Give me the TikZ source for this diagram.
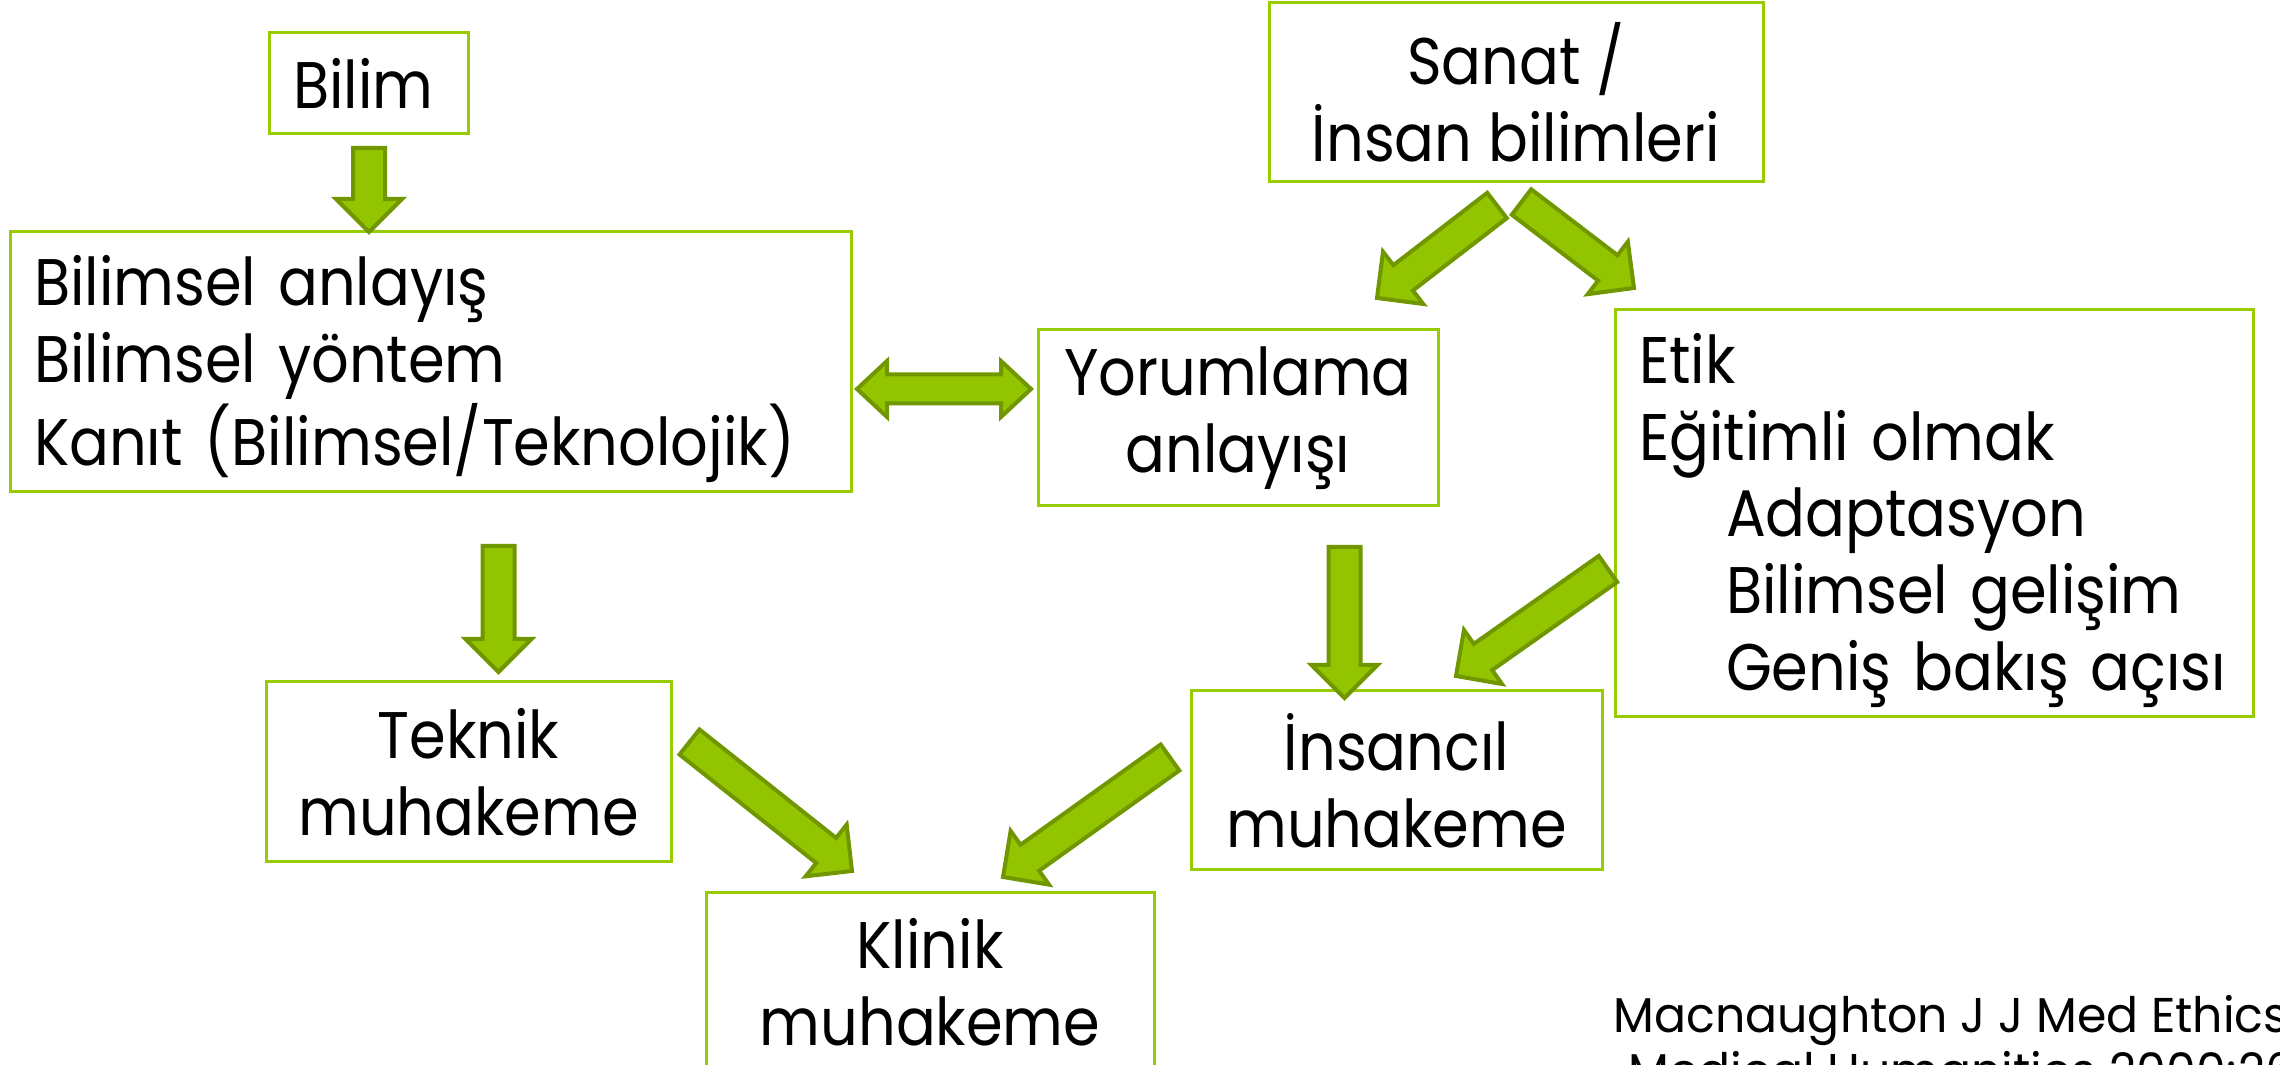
\documentclass[tikz,border=0pt]{standalone}
\usepackage{fontspec}
\setmainfont{Poppins}[FakeStretch=0.895]
\newfontfamily\citefont{Poppins}[FakeStretch=0.97]
\usetikzlibrary{calc}
\definecolor{boxgreen}{RGB}{153,204,0}
\definecolor{arrowfill}{RGB}{146,196,0}
\definecolor{arrowline}{RGB}{112,150,0}
% block arrow sizes
\def\shaftw{1.6mm}
\def\headw{3.3mm}
\def\headl{3.3mm}
\newcommand{\bigarrow}[2]{%
  \path ($(#2)!\headl!(#1)$) coordinate (hb);
  \filldraw[arrowblock] ($(#1)!\shaftw!90:(#2)$) -- ($(hb)!\shaftw!90:(#2)$) -- ($(hb)!\headw!90:(#2)$) -- (#2)
    -- ($(hb)!\headw!-90:(#2)$) -- ($(hb)!\shaftw!-90:(#2)$) -- ($(#1)!\shaftw!-90:(#2)$) -- cycle;}
\newcommand{\dblarrow}[2]{%
  \path ($(#1)!3mm!(#2)$) coordinate (ha) ($(#2)!3mm!(#1)$) coordinate (hb);
  \filldraw[arrowblock] (#1) -- ($(ha)!2.8mm!90:(#2)$) -- ($(ha)!1.45mm!90:(#2)$) -- ($(hb)!1.45mm!-90:(#1)$)
    -- ($(hb)!2.8mm!-90:(#1)$) -- (#2) -- ($(hb)!2.8mm!90:(#1)$) -- ($(hb)!1.45mm!90:(#1)$)
    -- ($(ha)!1.45mm!-90:(#2)$) -- ($(ha)!2.8mm!-90:(#2)$) -- cycle;}
% first line with some extra room above it
\newcommand{\toppad}[1]{\raisebox{0pt}[\dimexpr\height+1.4mm\relax]{#1}}
\begin{document}
\begin{tikzpicture}[x=0.1mm,y=-0.1mm,
  box/.style={draw=boxgreen,line width=0.3mm,inner sep=0pt,align=center,
    font=\fontsize{18.75}{21.9}\selectfont},
  leftbox/.style={box,align=left,inner xsep=2.4mm},
  arrowblock/.style={fill=arrowfill,draw=arrowline,line width=0.4mm,line join=miter}]
\useasboundingbox (0,0) rectangle (2280,1065);
% boxes
\node[leftbox,text width=15.1mm,minimum height=10.1mm] (bilim) at (368.5,83.5) {Bilim};
\node[leftbox,text width=79.3mm,minimum height=26mm] (sci) at (430.5,362)
  {\toppad{Bilimsel anlayış}\\Bilimsel yöntem\\Kanıt (Bilimsel/Teknolojik)};
\node[box,minimum width=49.4mm,minimum height=17.9mm] (sanat) at (1516,92.5) {Sanat /\\ İnsan bilimleri};
\node[box,minimum width=40mm,minimum height=17.6mm] (yorum) at (1238,418) {Yorumlama\\anlayışı};
\node[leftbox,text width=59mm,minimum height=40.7mm] (etik) at (1934,513.5)
  {\toppad{Etik}\\Eğitimli olmak\\\hspace*{8.7mm}Adaptasyon\\\hspace*{8.7mm}Bilimsel gelişim\\\hspace*{8.7mm}Geniş bakış açısı};
\node[box,minimum width=40.5mm,minimum height=18mm] (teknik) at (468.5,772) {Teknik\\muhakeme};
\node[box,minimum width=41.1mm,minimum height=17.9mm] (insan) at (1396.5,780.5) {İnsancıl\\muhakeme};
\node[box,minimum width=44.8mm,minimum height=17.9mm] (klinik) at (930,982.5) {Klinik\\muhakeme};
\node[anchor=base west,inner sep=0pt,align=left,font=\citefont\fontsize{13.9}{16.2}\selectfont] (cite) at (1613,1089)
  {Macnaughton J J Med Ethics\\\hspace*{1.5mm}Medical Humanities 2000;26};
% arrow ends
\coordinate (a1s) at (369,148);    \coordinate (a1e) at (369,232);
\coordinate (a2s) at (498.5,546);  \coordinate (a2e) at (498.5,672);
\coordinate (a3s) at (1344.5,547); \coordinate (a3e) at (1344.5,698);
\coordinate (a4s) at (1497,205.5); \coordinate (a4e) at (1377,298);
\coordinate (a5s) at (1521.5,202); \coordinate (a5e) at (1634,288);
\coordinate (a6s) at (1608,569);   \coordinate (a6e) at (1456,676);
\coordinate (a7s) at (689.5,742);  \coordinate (a7e) at (852,871);
\coordinate (a8s) at (1170,757.5); \coordinate (a8e) at (1003,877);
\coordinate (d1) at (857,389);     \coordinate (d2) at (1031,389);
% arrows
\bigarrow{a1s}{a1e}
\bigarrow{a2s}{a2e}
\bigarrow{a3s}{a3e}
\bigarrow{a4s}{a4e}
\bigarrow{a5s}{a5e}
\bigarrow{a6s}{a6e}
\bigarrow{a7s}{a7e}
\bigarrow{a8s}{a8e}
\dblarrow{d1}{d2}
\end{tikzpicture}
\end{document}
